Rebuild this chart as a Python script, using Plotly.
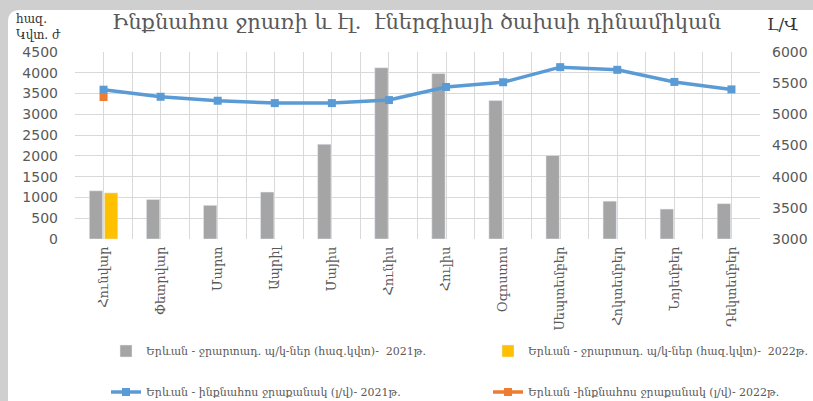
import plotly.graph_objects as go

months = ["Հունվար", "Փետրվար", "Մարտ", "Ապրիլ", "Մայիս", "Հունիս",
          "Հուլիս", "Օգոստոս", "Սեպտեմբեր", "Հոկտեմբեր", "Նոյեմբեր", "Դեկտեմբեր"]
energy_2021 = [1160, 950, 810, 1130, 2280, 4120, 3980, 3330, 2010, 910, 720, 850]
energy_2022 = [1110, None, None, None, None, None, None, None, None, None, None, None]
flow_2021 = [5395, 5282, 5218, 5180, 5180, 5229, 5439, 5515, 5757, 5714, 5520, 5400]
flow_2022 = [5278, None, None, None, None, None, None, None, None, None, None, None]

name_e21 = "Երևան - ջրարտադ. պ/կ-ներ (հազ.կվտ)-  2021թ."
name_e22 = "Երևան - ջրարտադ. պ/կ-ներ (հազ.կվտ)-  2022թ."
name_f21 = "Երևան - ինքնահոս ջրաքանակ (լ/վ)- 2021թ."
name_f22 = "Երևան -ինքնահոս ջրաքանակ (լ/վ)- 2022թ."

W, H = 813, 401
L, R, T, B = 75, 53, 52, 162
pw, ph = W - L - R, H - T - B

def px(x):
    return (x - L) / pw

def py(y):
    return (H - B - y) / ph

xi = list(range(len(months)))
grey = "#595959"

fig = go.Figure()
fig.add_trace(go.Bar(x=xi, y=energy_2021, name=name_e21, marker_color="#a5a5a5", legend="legend"))
fig.add_trace(go.Bar(x=xi, y=energy_2022, name=name_e22, marker_color="#ffc000", legend="legend2"))
fig.add_trace(go.Scatter(x=xi, y=flow_2021, name=name_f21, yaxis="y2", mode="lines+markers",
                         line=dict(color="#5b9bd5", width=3.5),
                         marker=dict(symbol="square", size=8, color="#5b9bd5"), legend="legend3"))
fig.add_trace(go.Scatter(x=xi, y=flow_2022, name=name_f22, yaxis="y2", mode="lines+markers",
                         line=dict(color="#ed7d31", width=3.5),
                         marker=dict(symbol="square", size=8, color="#ed7d31"), legend="legend4"))

# card background with rounded corner
r = 12
card = (f"M {px(8)},{py(10 + r)} Q {px(8)},{py(10)} {px(8 + r)},{py(10)} "
        f"L {px(840)},{py(10)} L {px(840)},{py(430)} L {px(8)},{py(430)} Z")

leg_font = dict(family="DejaVu Serif", size=11, color=grey)

def leg(xp, yp):
    return dict(orientation="h", x=px(xp), xanchor="left", y=py(yp), yanchor="middle",
                font=leg_font, bgcolor="rgba(0,0,0,0)")

tick_font = dict(family="DejaVu Sans", size=14, color=grey)

fig.update_layout(
    width=W, height=H,
    margin=dict(l=L, r=R, t=T, b=B, autoexpand=False),
    paper_bgcolor="#cfcfcf",
    plot_bgcolor="rgba(0,0,0,0)",
    font=dict(family="DejaVu Serif", color=grey),
    barmode="group", bargap=0.47, bargroupgap=0.12,
    shapes=[dict(type="path", path=card, xref="paper", yref="paper",
                 fillcolor="white", line=dict(width=0), layer="below")],
    xaxis=dict(range=[-0.5, 11.5], tickmode="array", tickvals=xi, ticktext=months,
               tickangle=-90, tickfont=dict(family="DejaVu Serif", size=13, color=grey),
               showgrid=True, gridcolor="#d9d9d9", gridwidth=1,
               minor=dict(tick0=0.5, dtick=1, showgrid=True, gridcolor="#d9d9d9", gridwidth=1),
               ticks="", zeroline=False, showline=False, automargin=False,
               ticklabelstandoff=4),
    yaxis=dict(range=[0, 4500], dtick=500, showgrid=True, gridcolor="#d9d9d9", gridwidth=1,
               tickfont=tick_font, ticks="", zeroline=False, automargin=False,
               ticklabelstandoff=16),
    yaxis2=dict(range=[3000, 6000], dtick=500, overlaying="y", side="right", showgrid=False,
                tickfont=tick_font, ticks="", zeroline=False, automargin=False,
                ticklabelstandoff=11),
    legend=leg(106, 351),
    legend2=leg(488, 351),
    legend3=leg(106, 392),
    legend4=leg(488, 392),
    showlegend=True,
    annotations=[
        dict(text="Ինքնահոս ջրառի և էլ.  էներգիայի ծախսի դինամիկան", xref="paper", yref="paper",
             x=px(416), y=py(22), xanchor="center", yanchor="middle", showarrow=False,
             font=dict(family="DejaVu Serif", size=21, color=grey)),
        dict(text="հազ.<br>Կվտ. ժ", xref="paper", yref="paper", x=px(14), y=py(27),
             xanchor="left", yanchor="middle", showarrow=False, align="left",
             font=dict(family="DejaVu Serif", size=12, color="#333333")),
        dict(text="Լ/Վ", xref="paper", yref="paper", x=px(782), y=py(24),
             xanchor="center", yanchor="middle", showarrow=False,
             font=dict(family="DejaVu Serif", size=17, color="#333333")),
    ],
)

fig.write_html("out.html", config={"displayModeBar": False},
               post_script="document.body.style.margin='0';document.body.style.overflow='hidden';")
